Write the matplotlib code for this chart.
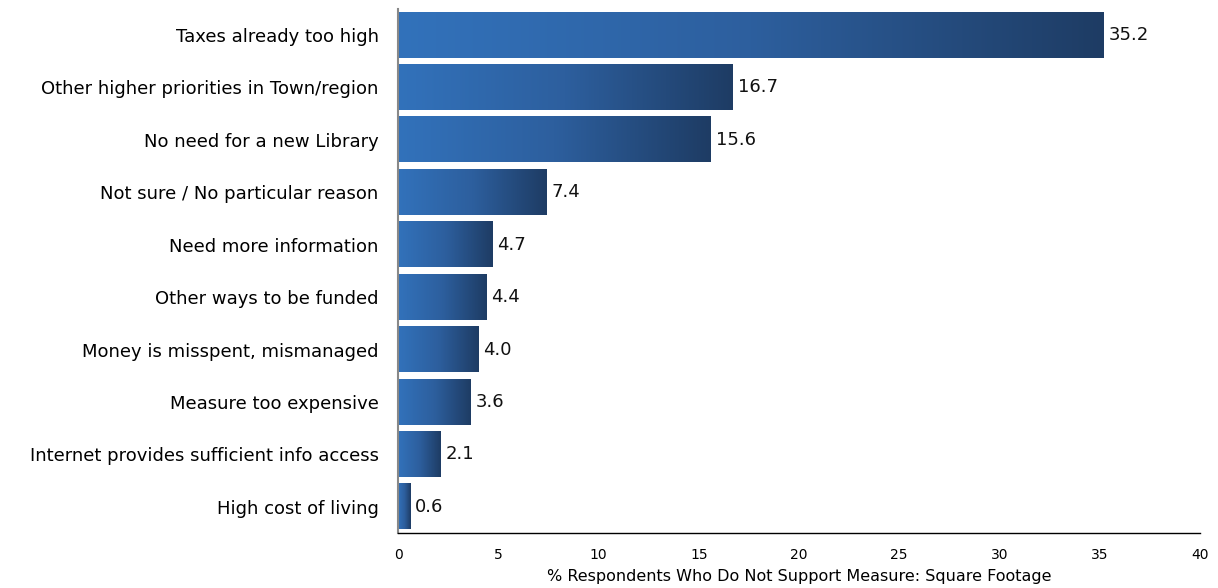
import numpy as np
import matplotlib
matplotlib.use("Agg")
from matplotlib import pyplot as plt
from matplotlib.colors import LinearSegmentedColormap

categories = [
    "Taxes already too high",
    "Other higher priorities in Town/region",
    "No need for a new Library",
    "Not sure / No particular reason",
    "Need more information",
    "Other ways to be funded",
    "Money is misspent, mismanaged",
    "Measure too expensive",
    "Internet provides sufficient info access",
    "High cost of living",
]
values = [35.2, 16.7, 15.6, 7.4, 4.7, 4.4, 4.0, 3.6, 2.1, 0.6]
xticks = [0, 5, 10, 15, 20, 25, 30, 35, 40]
xlabel = "% Respondents Who Do Not Support Measure: Square Footage"

cmap = LinearSegmentedColormap.from_list("bar", ["#3272bb", "#2d5f9e", "#1e3c64"])

fig = plt.figure(figsize=(12.18, 5.88), dpi=100)
ax = fig.add_axes([0.3268, 0.0935, 0.6584, 0.8915])

ypos = np.arange(len(categories))
h = 0.86
grad = np.linspace(0, 1, 256).reshape(1, -1)
for y, v in zip(ypos, values):
    ax.imshow(grad, cmap=cmap, aspect="auto", interpolation="bilinear",
              extent=[0, v, y + h / 2, y - h / 2], zorder=2)
    ax.text(v + 0.25, y, f"{v:.1f}", va="center", ha="left", fontsize=13, color="#111111")

ax.set_xlim(0, 40)
ax.set_ylim(len(categories) - 0.5, -0.5)
ax.set_yticks(ypos)
ax.set_yticklabels(categories, fontsize=13)
ax.set_xticks(xticks)
ax.set_xticklabels([str(t) for t in xticks], fontsize=10)
ax.set_xlabel(xlabel, fontsize=11.5, va="center")
ax.xaxis.set_label_coords(0.5, -0.083)

ax.tick_params(axis="both", length=0)
ax.tick_params(axis="x", pad=11)
ax.tick_params(axis="y", pad=14)
for s in ["top", "right"]:
    ax.spines[s].set_visible(False)
ax.spines["left"].set_color("#888888")
ax.spines["left"].set_linewidth(1.5)
ax.spines["bottom"].set_color("#000000")
ax.spines["bottom"].set_linewidth(1)

fig.savefig("out.png", dpi=100)
